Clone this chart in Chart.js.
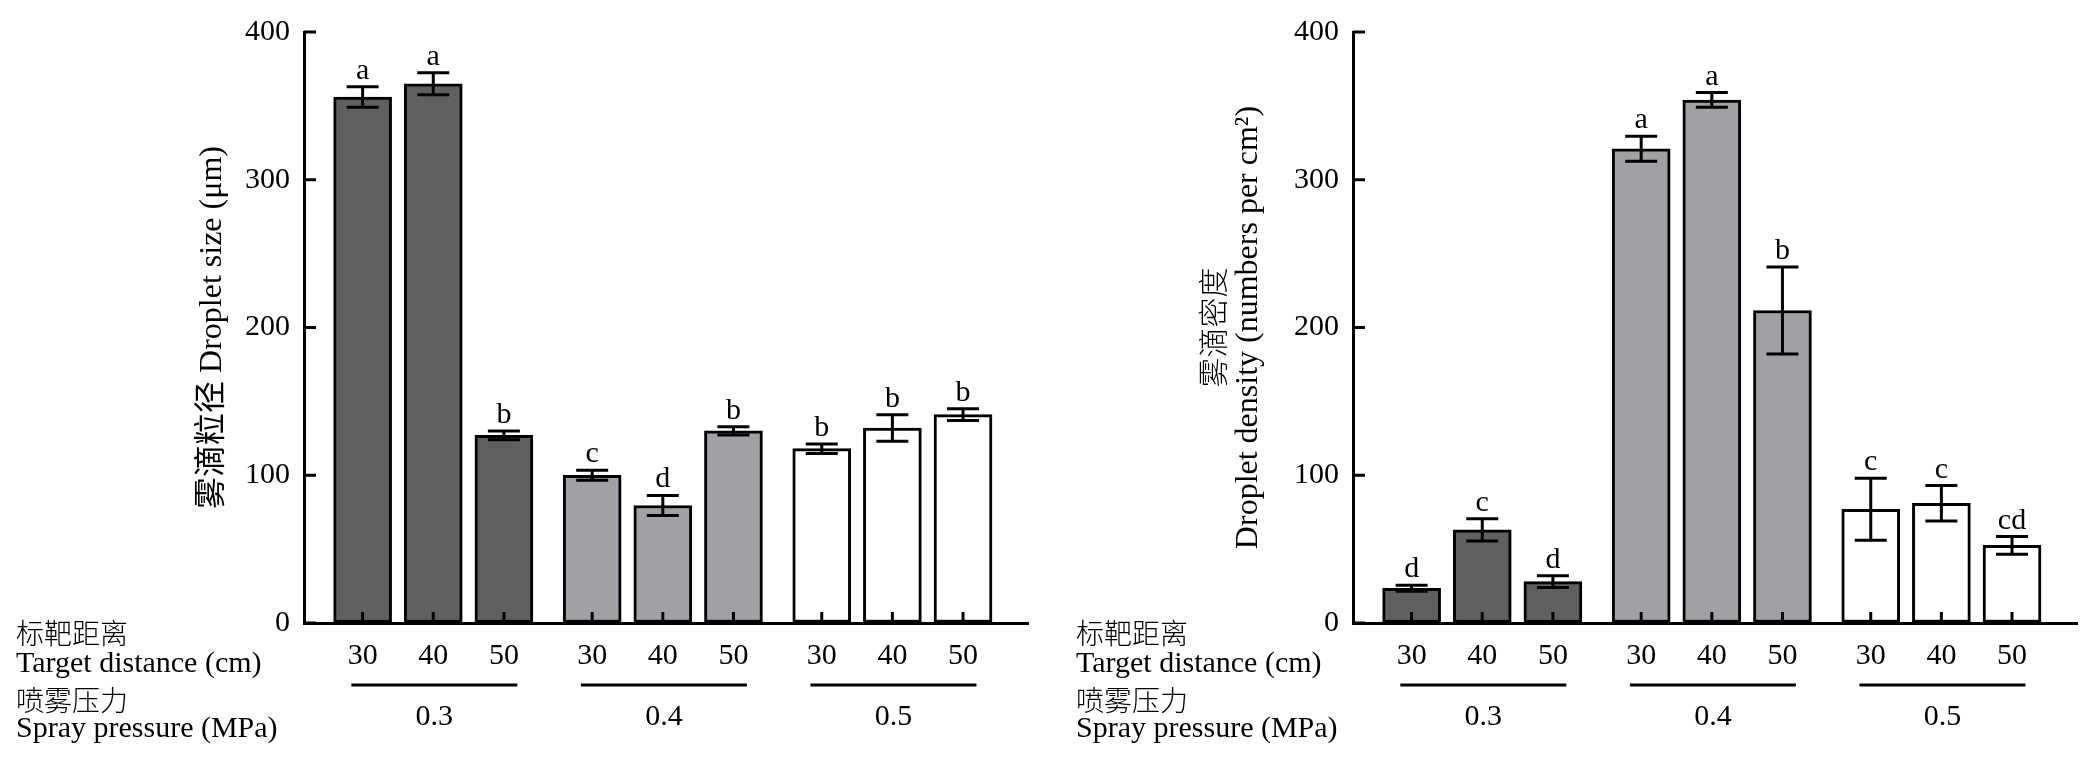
<!DOCTYPE html>
<html>
<head>
<meta charset="utf-8">
<script src="https://cdn.jsdelivr.net/npm/chart.js@4.4.1/dist/chart.umd.min.js"></script>
<style>
  body { margin: 0; background: #fff; width: 2093px; height: 760px; overflow: hidden; }
  .panel { position: absolute; top: 0; height: 760px; }
  #p1 { left: 0; width: 1049px; }
  #p2 { left: 1049px; width: 1044px; }
</style>
</head>
<body>
<div class="panel" id="p1"><canvas id="sizeChart"></canvas></div>
<div class="panel" id="p2"><canvas id="densityChart"></canvas></div>
<script>
const distances = ['30', '40', '50'];
const pressures = ['0.3', '0.4', '0.5'];
const groupColors = ['#606060', '#a1a0a5', '#ffffff'];

// droplet size (um), mean and error, per pressure then distance
const sizeMean = [356, 365, 127, 100, 79.5, 130, 118, 132, 141];
const sizeErr = [7, 7.5, 3, 3.4, 6.8, 2.8, 3.2, 9, 4];
const sizeLetters = ['a', 'a', 'b', 'c', 'd', 'b', 'b', 'b', 'b'];

// droplet density (numbers per cm2)
const densityMean = [23.5, 63, 28, 321, 354, 211.5, 77, 81, 52.5];
const densityErr = [2, 7.5, 4, 8.5, 5, 29.5, 21, 12, 6];
const densityLetters = ['d', 'c', 'd', 'a', 'a', 'b', 'c', 'c', 'cd'];

const yTicks = [0, 100, 200, 300, 400];

const serif = "'Liberation Serif', 'Noto Sans CJK SC', serif";
const cjk = "'Noto Sans CJK SC', sans-serif";
Chart.defaults.font.family = serif;
Chart.defaults.color = '#000';

// three bars per pressure, a little extra room between pressures
const positions = [];
pressures.forEach((p, g) => distances.forEach((d, i) => positions.push(g * 3.25 + i)));

const extras = {
  id: 'extras',
  afterDatasetsDraw(chart, args, opts) {
    const ctx = chart.ctx;
    const xs = chart.scales.x, ys = chart.scales.y;
    const area = chart.chartArea;
    ctx.save();
    ctx.strokeStyle = '#000';
    ctx.fillStyle = '#000';
    ctx.lineWidth = 3;

    // error bars and letters
    opts.means.forEach((m, i) => {
      const x = xs.getPixelForValue(positions[i]);
      const top = ys.getPixelForValue(m + opts.errs[i]);
      const bot = ys.getPixelForValue(m - opts.errs[i]);
      ctx.beginPath();
      ctx.moveTo(x, top); ctx.lineTo(x, bot);
      ctx.moveTo(x - 16, top); ctx.lineTo(x + 16, top);
      ctx.moveTo(x - 16, bot); ctx.lineTo(x + 16, bot);
      ctx.stroke();
      ctx.font = '30px ' + serif;
      ctx.textAlign = 'center';
      ctx.textBaseline = 'alphabetic';
      ctx.fillText(opts.letters[i], x, top - 8);
    });

    // inward ticks
    ctx.beginPath();
    yTicks.forEach(v => {
      const y = ys.getPixelForValue(v);
      ctx.moveTo(area.left, y); ctx.lineTo(area.left + 12, y);
    });
    positions.forEach(p => {
      const x = xs.getPixelForValue(p);
      ctx.moveTo(x, area.bottom); ctx.lineTo(x, area.bottom - 11);
    });
    ctx.stroke();
    ctx.restore();
  },
  afterDraw(chart, args, opts) {
    const ctx = chart.ctx;
    const xs = chart.scales.x;
    const area = chart.chartArea;
    ctx.save();
    ctx.fillStyle = '#000';
    ctx.strokeStyle = '#000';

    // group lines and pressure labels
    ctx.lineWidth = 3;
    ctx.font = '30px ' + serif;
    ctx.textAlign = 'center';
    ctx.textBaseline = 'middle';
    pressures.forEach((p, g) => {
      const x0 = xs.getPixelForValue(positions[g * 3] - 0.16);
      const x1 = xs.getPixelForValue(positions[g * 3 + 2] + 0.19);
      ctx.beginPath();
      ctx.moveTo(x0, 685); ctx.lineTo(x1, 685);
      ctx.stroke();
      ctx.fillText(p, (x0 + x1) / 2, 717);
    });

    // row captions on the left
    ctx.textAlign = 'left';
    ctx.textBaseline = 'alphabetic';
    ctx.fillText('Target distance (cm)', opts.captionX, 672);
    ctx.fillText('Spray pressure (MPa)', opts.captionX, 737);
    ctx.font = '300 28px ' + cjk;
    ctx.textBaseline = 'middle';
    ctx.fillText('标靶距离', opts.captionX, 633);
    ctx.fillText('喷雾压力', opts.captionX, 700);

    // y axis title
    ctx.textAlign = 'center';
    ctx.textBaseline = 'middle';
    const cy = (area.top + area.bottom) / 2;
    opts.title.forEach(line => {
      ctx.save();
      ctx.font = line.font;
      ctx.translate(line.x, cy);
      ctx.rotate(-Math.PI / 2);
      ctx.fillText(line.text, 0, 0);
      ctx.restore();
    });
    ctx.restore();
  }
};

function makeChart(id, means, errs, letters, title, captionX, padRight) {
  return new Chart(document.getElementById(id), {
    type: 'bar',
    data: {
      datasets: [{
        data: positions.map((x, i) => ({ x: x, y: means[i] })),
        backgroundColor: positions.map((x, i) => groupColors[Math.floor(i / 3)]),
        borderColor: '#000',
        borderWidth: 3,
        borderSkipped: false,
        barThickness: 58
      }]
    },
    options: {
      responsive: true,
      maintainAspectRatio: false,
      animation: false,
      layout: { padding: { top: 32, right: padRight, bottom: 0, left: 0 } },
      plugins: {
        legend: { display: false },
        tooltip: { enabled: false },
        extras: { means: means, errs: errs, letters: letters, title: title, captionX: captionX }
      },
      scales: {
        x: {
          type: 'linear',
          offset: false,
          min: -0.83,
          max: 9.42,
          afterBuildTicks: s => { s.ticks = positions.map(v => ({ value: v })); },
          afterFit: s => { s.height = 137; },
          ticks: {
            autoSkip: false, maxRotation: 0, minRotation: 0, padding: 15,
            font: { size: 30 },
            callback: (v, i) => distances[i % 3]
          },
          grid: { display: true, drawOnChartArea: false, drawTicks: false },
          border: { display: true, color: '#000', width: 3 }
        },
        y: {
          min: 0,
          max: 400,
          afterFit: s => { s.width = 304; },
          ticks: { stepSize: 100, padding: 14, font: { size: 30 } },
          grid: { display: true, drawOnChartArea: false, drawTicks: false },
          border: { display: true, color: '#000', width: 3 }
        }
      }
    },
    plugins: [extras]
  });
}

makeChart('sizeChart', sizeMean, sizeErr, sizeLetters,
  [{ text: '雾滴粒径 Droplet size (μm)', x: 213, font: '32px ' + serif }], 16, 21);
makeChart('densityChart', densityMean, densityErr, densityLetters,
  [{ text: '雾滴密度', x: 164, font: '300 30px ' + cjk },
   { text: 'Droplet density (numbers per cm²)', x: 200, font: '32px ' + serif }], 27, 16);
</script>
</body>
</html>
